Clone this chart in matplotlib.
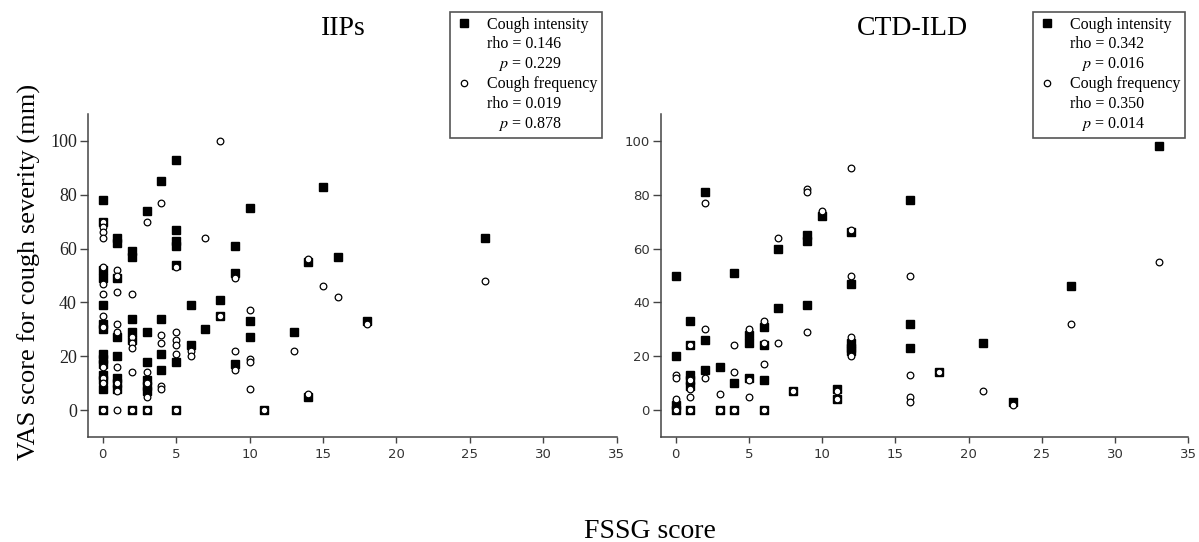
import matplotlib
matplotlib.use('Agg')
import matplotlib.pyplot as plt
from matplotlib.lines import Line2D

# IIPs - cough intensity (filled squares)
iip_int_x = [0,0,0,0,0,0,0,0,0,0,0,0,0,0, 1,1,1,1,1,1,1,1, 2,2,2,2,2,2,
             3,3,3,3,3,3,3, 4,4,4,4, 5,5,5,5,5,5,5, 6,6, 7, 8,8, 9,9,9,
             10,10,10, 11, 13, 14,14, 15, 16, 18, 26]
iip_int_y = [78,70,52,49,39,32,30,21,19,17,13,11,8,0, 64,62,49,27,20,12,10,8,
             59,57,34,29,26,0, 74,29,18,11,9,7,0, 85,34,21,15,
             93,67,63,61,54,18,0, 39,24, 30, 41,35, 61,51,17,
             75,33,27, 0, 29, 55,5, 83, 57, 33, 64]
# IIPs - cough frequency (open circles)
iip_freq_x = [0,0,0,0,0,0,0,0,0,0,0,0,0, 1,1,1,1,1,1,1,1,1, 2,2,2,2,2,2,
              3,3,3,3,3, 4,4,4,4,4, 5,5,5,5,5,5, 6,6, 7, 8,8, 9,9,9,
              10,10,10,10, 11, 13, 14,14, 15, 16, 18, 26]
iip_freq_y = [70,68,66,64,53,47,43,35,31,16,12,10,0, 52,50,44,32,29,16,10,7,0,
              43,27,25,23,14,0, 70,14,10,5,0, 77,28,25,9,8,
              53,29,26,24,21,0, 22,20, 64, 100,35, 49,22,15,
              37,19,18,8, 0, 22, 56,6, 46, 42, 32, 48]

# CTD-ILD - cough intensity
ctd_int_x = [0,0,0,0, 1,1,1,1,1,1, 2,2,2, 3,3, 4,4,4, 5,5,5, 6,6,6,6, 7,7, 8,
             9,9,9, 10, 11,11, 12,12,12,12,12, 16,16,16, 18, 21, 23, 27, 33]
ctd_int_y = [50,20,2,0, 33,24,13,11,9,0, 81,26,15, 16,0, 51,10,0, 28,25,12,
             31,24,11,0, 60,38, 7, 65,63,39, 72, 8,4, 66,47,25,23,22,
             78,32,23, 14, 25, 3, 46, 98]
# CTD-ILD - cough frequency
ctd_freq_x = [0,0,0,0, 1,1,1,1,1, 2,2,2, 3,3, 4,4,4, 5,5,5, 6,6,6,6, 7,7, 8,
              9,9,9, 10, 11,11, 12,12,12,12,12, 16,16,16,16, 18, 21, 23, 27, 33]
ctd_freq_y = [13,12,4,0, 24,11,8,5,0, 77,30,12, 6,0, 24,14,0, 30,11,5,
              33,25,17,0, 64,25, 7, 82,81,29, 74, 7,4, 90,67,50,27,20,
              50,13,5,3, 14, 7, 2, 32, 55]

iip_stats = ['0.146', '0.229', '0.019', '0.878']
ctd_stats = ['0.342', '0.016', '0.350', '0.014']

plt.rcParams['font.family'] = 'Liberation Serif'
plt.rcParams['mathtext.fontset'] = 'stix'

W, H = 1199, 542
fig = plt.figure(figsize=(W/100, H/100), dpi=100)

def draw_panel(ax, ix, iy, fx, fy, serif_y):
   ax.plot(ix, iy, ls='none', marker='s', color='black', ms=5.4)
   ax.plot(fx, fy, ls='none', marker='o', mfc='white', mec='black', mew=0.9, ms=4.8)
   ax.set_xlim(-1, 35)
   ax.set_ylim(-10, 110)
   ax.set_xticks(range(0, 36, 5))
   ax.set_yticks(range(0, 101, 20))
   for s in ['top', 'right']:
      ax.spines[s].set_visible(False)
   for s in ['left', 'bottom']:
      ax.spines[s].set_color('#444444')
      ax.spines[s].set_linewidth(1.1)
   ax.tick_params(axis='x', direction='out', length=4, width=1, color='#444444',
                  pad=4, labelsize=9.5, labelcolor='#333333')
   ax.tick_params(axis='y', direction='out', length=6, width=1, color='#444444', pad=2)
   for lab in ax.get_xticklabels():
      lab.set_family('DejaVu Sans')
   if serif_y:
      ax.tick_params(axis='y', labelsize=13, labelcolor='#222222')
   else:
      ax.tick_params(axis='y', labelsize=9.5, labelcolor='#333333')
      for lab in ax.get_yticklabels():
         lab.set_family('DejaVu Sans')

def add_legend(ax, x0, stats):
   h = [Line2D([], [], ls='none', marker='s', color='black', ms=5.2),
        Line2D([], [], ls='none', marker='none'),
        Line2D([], [], ls='none', marker='none'),
        Line2D([], [], ls='none', marker='o', mfc='white', mec='black', mew=0.9, ms=4.6),
        Line2D([], [], ls='none', marker='none'),
        Line2D([], [], ls='none', marker='none')]
   labels = ['Cough intensity', 'rho = ' + stats[0], '   $p$ = ' + stats[1],
             'Cough frequency', 'rho = ' + stats[2], '   $p$ = ' + stats[3]]
   leg = ax.legend(h, labels, loc='upper left', bbox_to_anchor=(x0/W, 1 - 12/H),
                   bbox_transform=fig.transFigure, borderaxespad=0, fontsize=11.5,
                   frameon=True, fancybox=False, framealpha=1, edgecolor='#555555',
                   borderpad=0.3, handlelength=1.2, handletextpad=0.8, labelspacing=0.2)
   leg.get_frame().set_linewidth(1.2)

ax1 = fig.add_axes([88/W, 1 - 437/H, 528.7/W, 323/H])
ax2 = fig.add_axes([661/W, 1 - 437/H, 527.3/W, 323/H])

draw_panel(ax1, iip_int_x, iip_int_y, iip_freq_x, iip_freq_y, True)
draw_panel(ax2, ctd_int_x, ctd_int_y, ctd_freq_x, ctd_freq_y, False)
add_legend(ax1, 450, iip_stats)
add_legend(ax2, 1033, ctd_stats)

# titles and shared axis labels
fig.text(343/W, 1 - 35/H, 'IIPs', ha='center', va='baseline', fontsize=20)
fig.text(912/W, 1 - 35/H, 'CTD-ILD', ha='center', va='baseline', fontsize=20)
fig.text(29/W, 1 - 272/H, 'VAS score for cough severity (mm)', rotation=90,
         ha='center', va='center', fontsize=19)
fig.text(650/W, 1 - 538/H, 'FSSG score', ha='center', va='baseline', fontsize=20)

fig.savefig('out.png', dpi=100)
